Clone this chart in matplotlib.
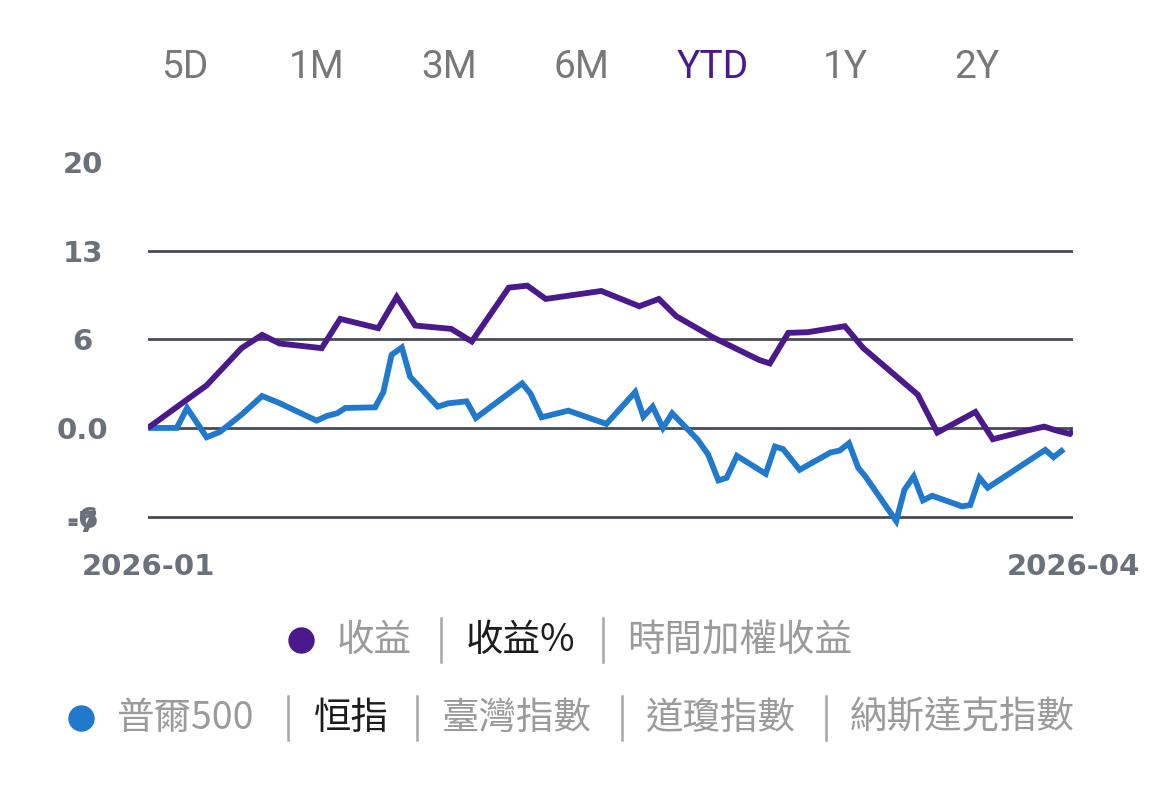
import matplotlib
matplotlib.use("Agg")
import matplotlib.pyplot as plt
from matplotlib.lines import Line2D

# 報酬走勢 (YTD), x = 自 2026-01 起的天數
port_days = [0, 5.7, 9.1, 11.1, 12.8, 16.9, 18.7, 22.4, 24.2, 26.0, 29.5, 31.5,
             35.1, 36.9, 38.7, 44.1, 47.8, 49.7, 51.4, 55.0, 59.5, 60.5, 62.3,
             64.2, 67.8, 69.6, 74.9, 76.8, 80.5, 82.2, 85.5, 87.2, 88.4, 89.7, 90.0]
port_ret = [0.0, 3.2, 6.0, 7.0, 6.35, 6.0, 8.2, 7.5, 9.85, 7.7, 7.45, 6.5,
            10.55, 10.7, 9.7, 10.3, 9.15, 9.7, 8.4, 6.8, 5.1, 4.85, 7.15,
            7.2, 7.65, 6.0, 2.5, -0.35, 1.2, -0.85, -0.2, 0.1, -0.2, -0.45, -0.2]

hsi_days = [0, 2.8, 3.8, 5.7, 7.0, 9.1, 11.1, 12.7, 16.4, 17.4, 18.4, 19.2,
            22.1, 22.9, 23.7, 24.7, 25.5, 28.2, 29.2, 31.0, 31.9, 36.4, 37.2,
            38.3, 40.9, 44.6, 47.4, 48.2, 49.1, 50.1, 51.0, 53.5, 54.5, 55.5,
            56.3, 57.3, 60.1, 61.0, 61.8, 63.4, 66.4, 67.3, 68.2, 69.1, 69.8,
            72.8, 73.6, 74.5, 75.4, 76.3, 79.2, 80.0, 80.9, 81.7, 87.3, 88.1, 89.1]
hsi_ret = [0.0, 0.0, 1.5, -0.7, -0.3, 1.0, 2.4, 1.9, 0.55, 0.9, 1.1, 1.5,
           1.55, 2.7, 5.5, 6.05, 3.85, 1.6, 1.85, 2.0, 0.75, 3.35, 2.6,
           0.8, 1.3, 0.3, 2.7, 0.85, 1.6, 0.0, 1.1, -0.9, -2.0, -3.95,
           -3.75, -2.1, -3.45, -1.4, -1.6, -3.15, -1.85, -1.7, -1.15, -3.0, -3.65,
           -7.0, -4.65, -3.65, -5.45, -5.1, -5.9, -5.8, -3.75, -4.5, -1.65, -2.2, -1.6]

y_ticks = [20, 13.33, 6.67, 0, -6.67, -7]
y_labels = ["20", "13", "6", "0.0", "-6", "-7"]
grid_vals = [13.33, 6.67, 0, -6.67]
x_ticks = [0, 90]
x_labels = ["2026-01", "2026-04"]

tabs = ["5D", "1M", "3M", "6M", "YTD", "1Y", "2Y"]
row1 = ["收益", "收益%", "時間加權收益"]
row2 = ["普爾500", "恒指", "臺灣指數", "道瓊指數", "納斯達克指數"]

PURPLE = "#4a1a8c"
BLUE = "#2079cc"
AXGRAY = "#6b717b"
LGRAY = "#9b9b9b"

W, H = 1170, 800
fig = plt.figure(figsize=(W / 100, H / 100), dpi=100)
fig.patch.set_facecolor("white")

def fx(px):
    return px / W

def fy(py):
    return 1 - py / H

ax = fig.add_axes([fx(148), fy(521), fx(1073) - fx(148), fy(162) - fy(521)])
ax.set_xlim(0, 90)
ax.set_ylim(-7, 20)
for s in ax.spines.values():
    s.set_visible(False)

for g in grid_vals:
    ax.axhline(g, color="#474b53", lw=2.0, zorder=1)

ax.plot(port_days, port_ret, color=PURPLE, lw=4.2, zorder=3,
        solid_joinstyle="miter", solid_capstyle="butt")
ax.plot(hsi_days, hsi_ret, color=BLUE, lw=4.2, zorder=2, clip_on=False,
        solid_joinstyle="miter", solid_capstyle="butt")

ax.set_yticks(y_ticks)
ax.set_yticklabels(y_labels, fontsize=21, fontweight="bold", color=AXGRAY,
                   family="DejaVu Sans", ha="center")
ax.tick_params(axis="y", length=0, pad=47)
ax.set_xticks(x_ticks)
ax.set_xticklabels(x_labels, fontsize=21, fontweight="bold", color=AXGRAY,
                   family="DejaVu Sans")
ax.tick_params(axis="x", length=0, pad=23)

# 期間選單
for i, t in enumerate(tabs):
    fig.text(fx(185 + 132 * i), fy(67), t, ha="center", va="center",
             fontsize=28, family=["Liberation Sans Narrow", "Roboto"],
             color=PURPLE if t == "YTD" else "#787878")

cjk = ["Noto Sans CJK TC", "DejaVu Sans"]

def legend_row(y, dot_x, dot_color, items, starts, seps, active):
    fig.add_artist(Line2D([fx(dot_x)], [fy(y)], marker="o", markersize=18,
                          color=dot_color, transform=fig.transFigure))
    for txt, x0 in zip(items, starts):
        fig.text(fx(x0), fy(y), txt, ha="left", va="center", fontsize=27,
                 family=cjk, color="#1c1c1c" if txt == active else LGRAY)
    for sx in seps:
        fig.add_artist(Line2D([fx(sx), fx(sx)], [fy(y - 22), fy(y + 22)],
                              color="#a6a6a6", lw=1.8, transform=fig.transFigure))

legend_row(640, 301, PURPLE, row1, [337, 466, 627], [441, 603], "收益%")
legend_row(718, 81, BLUE, row2, [116, 314, 442, 646, 850], [288, 417, 622, 826], "恒指")

fig.savefig("out.png", dpi=100, facecolor="white")
